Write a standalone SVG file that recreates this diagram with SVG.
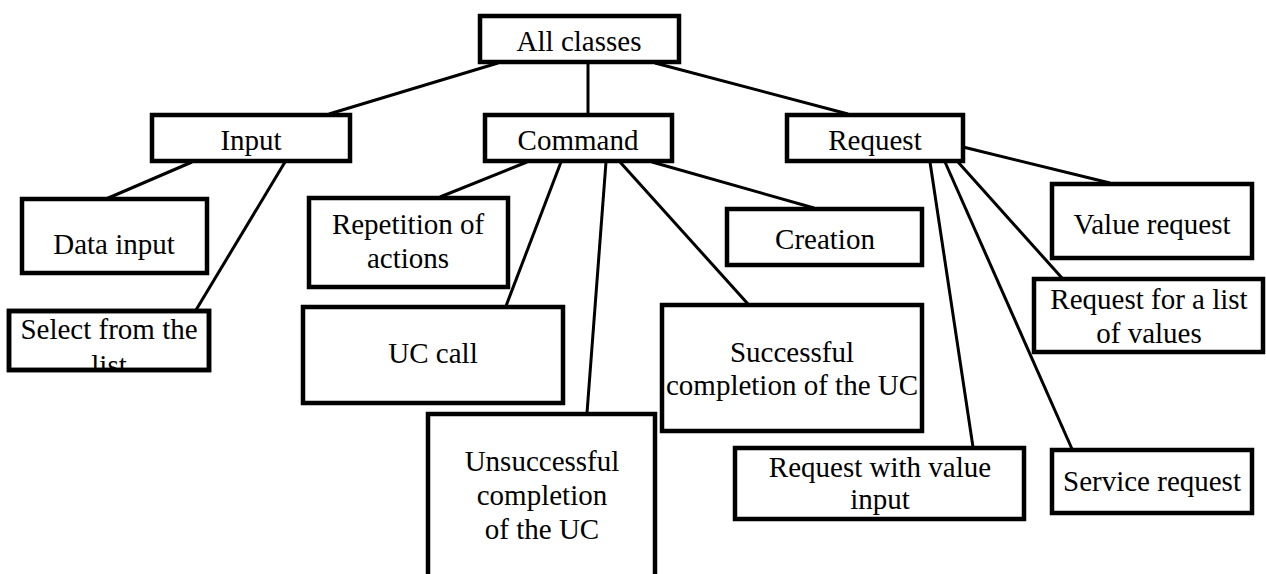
<svg xmlns="http://www.w3.org/2000/svg" width="1266" height="574" viewBox="0 0 1266 574">
<style>
.b{fill:#fff;stroke:#000;stroke-width:4.5}
.n{fill:none;stroke:#000;stroke-width:4.5}
.t{font-size:29px;fill:#000;text-anchor:middle}
.c line{stroke:#000;stroke-width:3}
</style>
<defs>
<clipPath id="selclip"><rect x="9" y="311" width="200" height="59"/></clipPath>
</defs>
<rect width="1266" height="574" fill="#fff"/>
<g class="c" id="connectors">
<line x1="498" y1="63" x2="329" y2="114"/>
<line x1="588" y1="63" x2="588" y2="114"/>
<line x1="655" y1="63" x2="848" y2="114"/>
<line x1="192" y1="162" x2="106" y2="199"/>
<line x1="285" y1="162" x2="196" y2="310"/>
<line x1="527" y1="162" x2="440" y2="197"/>
<line x1="561" y1="162" x2="506" y2="306"/>
<line x1="606" y1="162" x2="587" y2="413"/>
<line x1="620" y1="162" x2="748" y2="304"/>
<line x1="652" y1="162" x2="814" y2="208"/>
<line x1="930" y1="162" x2="973" y2="447"/>
<line x1="945" y1="162" x2="1072" y2="449"/>
<line x1="958" y1="162" x2="1062" y2="278"/>
<line x1="963" y1="147" x2="1110" y2="183"/>
</g>
<g font-family="Liberation Serif">
<g id="all"><rect class="b" x="480" y="16" width="199" height="46"/><text class="t" x="579" y="51">All classes</text></g>
<g id="input"><rect class="b" x="152" y="115" width="198" height="46"/><text class="t" x="251" y="150">Input</text></g>
<g id="command"><rect class="b" x="485" y="115" width="187" height="46"/><text class="t" x="578" y="150">Command</text></g>
<g id="request"><rect class="b" x="787" y="115" width="176" height="46"/><text class="t" x="875" y="150">Request</text></g>
<g id="datainput"><rect class="b" x="22" y="199" width="185" height="74"/><text class="t" x="114" y="254">Data input</text></g>
<g id="select"><rect class="b" x="9" y="311" width="200" height="59"/><g clip-path="url(#selclip)"><text class="t" x="109" y="339">Select from the</text><text class="t" x="109" y="375">list</text></g><rect class="n" x="9" y="311" width="200" height="59"/></g>
<g id="repetition"><rect class="b" x="309" y="198" width="199" height="89"/><text class="t" x="408" y="234">Repetition of</text><text class="t" x="408" y="268">actions</text></g>
<g id="uccall"><rect class="b" x="303" y="307" width="260" height="96"/><text class="t" x="433" y="363">UC call</text></g>
<g id="unsuccessful"><rect class="b" x="428" y="414" width="227" height="180"/><text class="t" x="542" y="471">Unsuccessful</text><text class="t" x="542" y="505">completion</text><text class="t" x="542" y="539">of the UC</text></g>
<g id="creation"><rect class="b" x="727" y="209" width="195" height="56"/><text class="t" x="825" y="249">Creation</text></g>
<g id="successful"><rect class="b" x="662" y="305" width="260" height="126"/><text class="t" x="792" y="362">Successful</text><text class="t" x="792" y="395">completion of the UC</text></g>
<g id="valueinput"><rect class="b" x="735" y="448" width="289" height="71"/><text class="t" x="880" y="477">Request with value</text><text class="t" x="880" y="509">input</text></g>
<g id="valuerequest"><rect class="b" x="1052" y="184" width="200" height="74"/><text class="t" x="1152" y="234">Value request</text></g>
<g id="listvalues"><rect class="b" x="1034" y="279" width="229" height="73"/><text class="t" x="1149" y="309">Request for a list</text><text class="t" x="1149" y="343">of values</text></g>
<g id="service"><rect class="b" x="1052" y="450" width="200" height="63"/><text class="t" x="1152" y="491">Service request</text></g>
</g>
</svg>
